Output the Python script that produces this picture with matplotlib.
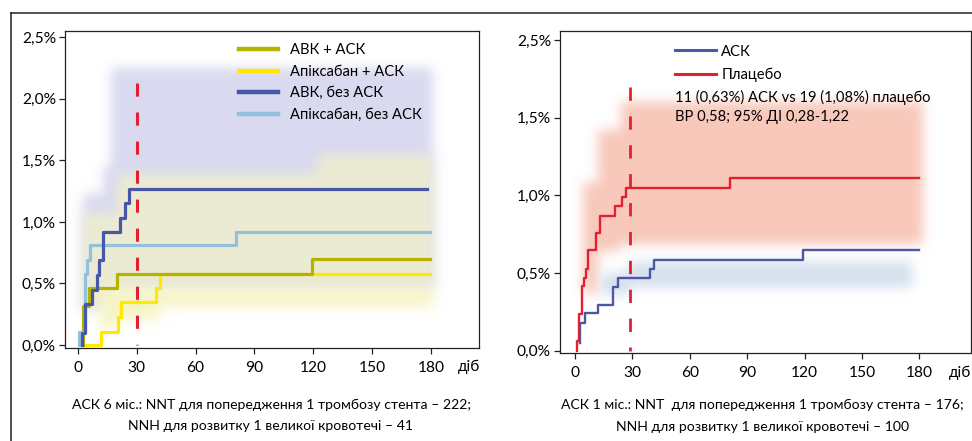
import numpy as np
import matplotlib
matplotlib.use("Agg")
import matplotlib.pyplot as plt
import matplotlib.colors as mcolors
from matplotlib.lines import Line2D

plt.rcParams['font.family'] = ['Lato', 'DejaVu Sans']

# ---- left panel: 6 months ----
abk_ask_x = [2.4, 2.4, 5.6, 20.1, 119.2, 179.5]
abk_ask_y = [0.0, 0.32, 0.46, 0.58, 0.70, 0.70]
apx_ask_x = [3.7, 11.7, 20.2, 21.8, 39.8, 41.9, 179.5]
apx_ask_y = [0.0, 0.11, 0.23, 0.35, 0.46, 0.58, 0.58]
abk_solo_x = [2.2, 2.2, 3.5, 7.1, 9.7, 10.9, 12.6, 21.4, 24.1, 26.2, 178.0]
abk_solo_y = [0.0, 0.10, 0.33, 0.45, 0.57, 0.69, 0.92, 1.03, 1.15, 1.27, 1.27]
apx_solo_x = [0.6, 0.6, 3.4, 4.7, 6.4, 80.5, 179.5]
apx_solo_y = [0.0, 0.11, 0.58, 0.69, 0.81, 0.92, 0.92]

# confidence bands (left)
lav_x = [2.4, 13.0, 17.0, 181.0]
lav_lo = [0.30, 0.46, 0.46, 0.46]
lav_hi = [1.23, 1.45, 2.25, 2.25]
mid_x = [2.4, 20.0, 122.0, 181.0]
mid_lo = [0.30, 0.46, 0.46, 0.46]
mid_hi = [1.07, 1.39, 1.54, 1.54]
yel_x = [12.0, 20.0, 42.0, 181.0]
yel_lo = [0.12, 0.20, 0.31, 0.31]
yel_hi = [0.46, 0.46, 0.46, 0.46]

left_labels = ['АВК + АСК', 'Апіксабан + АСК', 'АВК, без АСК', 'Апіксабан, без АСК']
left_ticks = [0.0, 0.5, 1.0, 1.5, 2.0, 2.5]
left_ticklabels = ['0,0%', '0,5%', '1,0%', '1,5%', '2,0%', '2,5%']

# ---- right panel: 1 month ----
plc_x = [0.9, 0.9, 2.3, 3.5, 4.9, 5.8, 7.0, 11.0, 13.2, 21.1, 24.4, 26.7, 81.0, 180.0]
plc_y = [0.0, 0.065, 0.235, 0.414, 0.468, 0.526, 0.647, 0.759, 0.866, 0.931, 0.991, 1.05, 1.11, 1.11]
ask_x = [2.9, 2.9, 5.5, 12.2, 19.7, 22.3, 39.2, 41.5, 119.0, 180.0]
ask_y = [0.047, 0.18, 0.24, 0.295, 0.41, 0.47, 0.526, 0.586, 0.647, 0.647]

sal_x = [4.2, 12.0, 24.0, 182.0]
sal_lo = [0.37, 0.64, 0.69, 0.69]
sal_hi = [1.08, 1.42, 1.60, 1.60]
blb_x = [14.0, 28.0, 176.0]
blb_lo = [0.36, 0.41, 0.41]
blb_hi = [0.50, 0.57, 0.57]

right_labels = ['АСК', 'Плацебо']
right_ticks = [0.0, 0.5, 1.0, 1.5, 2.0]
right_ticklabels = ['0,0%', '0,5%', '1,0%', '1,5%', '2,5%']
note_lines = ['11 (0,63%) АСК vs 19 (1,08%) плацебо', 'ВР 0,58; 95% ДІ 0,28-1,22']

day_ticks = [0, 30, 60, 90, 120, 150, 180]
captions_left = ['АСК 6 міс.: NNT для попередження 1 тромбозу стента – 222;',
                 'NNH для розвитку 1 великої кровотечі – 41']
captions_right = ['АСК 1 міс.: NNT  для попередження 1 тромбозу стента – 176;',
                  'NNH для розвитку 1 великої кровотечі – 100']

OLIVE = '#b4b400'
YELLOW = '#ffe900'
DARKBLUE = '#4656a8'
LIGHTBLUE = '#93c0dd'
RED = '#e41f2f'
ACKBLUE = '#4a58a6'
FS = 10.6      # legend / notes
CAP_FS = 10.1  # captions
TICK_FS = 11.2


class Blur:
    """agg filter: soft gaussian edge for a flat coloured fill"""
    def __init__(self, sigma, color):
        self.sigma = sigma
        self.rgb = mcolors.to_rgb(color)

    def __call__(self, im, dpi):
        s = self.sigma * dpi / 100.0
        r = int(3 * s) + 1
        k = np.exp(-0.5 * (np.arange(-r, r + 1) / s) ** 2)
        k /= k.sum()
        a = np.pad(im[..., 3], r, mode='constant')
        a = np.apply_along_axis(np.convolve, 0, a, k, mode='same')
        a = np.apply_along_axis(np.convolve, 1, a, k, mode='same')
        out = np.zeros(a.shape + (4,))
        out[..., :3] = self.rgb
        out[..., 3] = np.clip(a, 0, 1)
        return out, -r, -r


def band(ax, x, lo, hi, color, sigma=4):
    f = ax.fill_between(x, lo, hi, step='post', color=color, lw=0, zorder=1)
    f.set_agg_filter(Blur(sigma, color))
    return f


def style_axes(ax, yticks, ylabels):
    for sp in ax.spines.values():
        sp.set_linewidth(0.9)
        sp.set_color('#222222')
    ax.set_xticks(day_ticks)
    ax.set_xticklabels([str(d) for d in day_ticks])
    ax.set_yticks(yticks)
    ax.set_yticklabels(ylabels)
    ax.tick_params(direction='out', length=4.5, width=0.9, color='#222222',
                   labelsize=TICK_FS, pad=2)
    ax.tick_params(axis='x', pad=5)


fig = plt.figure(figsize=(9.72, 4.41), dpi=100)

# frame
fig.add_artist(Line2D([11 / 972, 1.0], [1 - 13 / 441] * 2, transform=fig.transFigure,
                      color='#222222', lw=1.1))
fig.add_artist(Line2D([11 / 972] * 2, [0.0, 1 - 13 / 441], transform=fig.transFigure,
                      color='#222222', lw=1.1))

# ---------- left ----------
ax1 = fig.add_axes([65 / 972, 93 / 441, 414 / 972, 317 / 441])
band(ax1, lav_x, lav_lo, lav_hi, '#d9d9f0')
band(ax1, mid_x, mid_lo, mid_hi, '#ececd3')
band(ax1, yel_x, yel_lo, yel_hi, '#f6f5c6')
ax1.plot([30, 30], [2.13, 0.0], color=RED, lw=2.2, dashes=(4.3, 5.2), zorder=2)
ax1.step(apx_ask_x, apx_ask_y, where='post', color=YELLOW, lw=2.3, zorder=3)
ax1.step(abk_ask_x, abk_ask_y, where='post', color=OLIVE, lw=2.3, zorder=3)
ax1.step(apx_solo_x, apx_solo_y, where='post', color=LIGHTBLUE, lw=2.3, zorder=3)
ax1.step(abk_solo_x, abk_solo_y, where='post', color=DARKBLUE, lw=2.3, zorder=4)
ax1.set_xlim(-6.6, 204.5)
ax1.set_ylim(-0.024, 2.551)
style_axes(ax1, left_ticks, left_ticklabels)

h1 = [Line2D([], [], color=c, lw=3.2) for c in (OLIVE, YELLOW, DARKBLUE, LIGHTBLUE)]
ax1.legend(h1, left_labels, loc='upper left', bbox_to_anchor=(0.42, 0.962),
           frameon=False, fontsize=FS, handlelength=2.65, handletextpad=0.8,
           labelspacing=0.52, borderpad=0, borderaxespad=0)

# ---------- right ----------
ax2 = fig.add_axes([560 / 972, 88 / 441, 411 / 972, 322 / 441])
band(ax2, sal_x, sal_lo, sal_hi, '#f8c8ba')
band(ax2, blb_x, blb_lo, blb_hi, '#d4e0ed')
ax2.plot([29, 29], [1.70, 0.0], color=RED, lw=2.0, dashes=(4.8, 5.6), zorder=2)
ax2.step(ask_x, ask_y, where='post', color=ACKBLUE, lw=1.7, zorder=3)
ax2.step(plc_x, plc_y, where='post', color=RED, lw=1.7, zorder=3)
ax2.set_xlim(-7.8, 207.0)
ax2.set_ylim(-0.015, 2.059)
style_axes(ax2, right_ticks, right_ticklabels)

h2 = [Line2D([], [], color=c, lw=2.2) for c in (ACKBLUE, RED)]
ax2.legend(h2, right_labels, loc='upper left', bbox_to_anchor=(0.28, 0.958),
           frameon=False, fontsize=FS, handlelength=2.75, handletextpad=0.4,
           labelspacing=0.63, borderpad=0, borderaxespad=0)
ax2.text(0.28, 0.795, note_lines[0], transform=ax2.transAxes, fontsize=FS,
         ha='left', va='center')
ax2.text(0.28, 0.733, note_lines[1], transform=ax2.transAxes, fontsize=FS,
         ha='left', va='center')

# day unit labels
fig.text(469 / 972, 1 - 367 / 441, 'діб', fontsize=TICK_FS, ha='center', va='center')
fig.text(960 / 972, 1 - 373 / 441, 'діб', fontsize=TICK_FS, ha='center', va='center')

# captions
fig.text(272 / 972, 1 - 405 / 441, captions_left[0], fontsize=CAP_FS, ha='center', va='center')
fig.text(270 / 972, 1 - 426 / 441, captions_left[1], fontsize=CAP_FS, ha='center', va='center')
fig.text(762 / 972, 1 - 405 / 441, captions_right[0], fontsize=CAP_FS, ha='center', va='center')
fig.text(763 / 972, 1 - 427 / 441, captions_right[1], fontsize=CAP_FS, ha='center', va='center')

fig.savefig('out.png', dpi=100)
